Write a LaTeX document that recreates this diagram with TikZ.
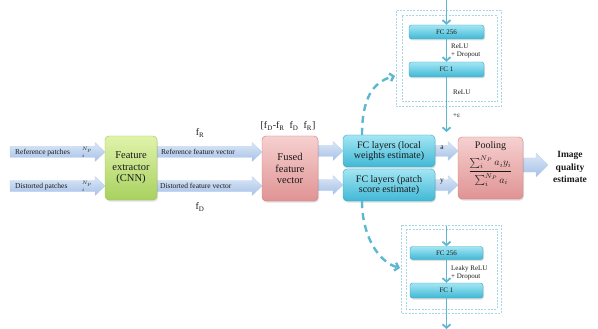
\documentclass[tikz,border=0pt]{standalone}
\usepackage{fontspec}
\setmainfont{Liberation Serif}
\usetikzlibrary{arrows.meta,shadows,calc}
\definecolor{cyanA}{HTML}{A3E6F4}
\definecolor{cyanB}{HTML}{40B8D5}
\definecolor{cyanD}{HTML}{3AA4C0}
\definecolor{greenA}{HTML}{E0F3AA}
\definecolor{greenB}{HTML}{A8D160}
\definecolor{greenD}{HTML}{9CC45A}
\definecolor{redA}{HTML}{F6D0D0}
\definecolor{redB}{HTML}{E09393}
\definecolor{redD}{HTML}{CC7C7C}
\definecolor{arrA}{HTML}{DCE7F6}
\definecolor{arrB}{HTML}{A5C1E8}
\definecolor{lineC}{HTML}{5DB7D0}
\definecolor{boxC}{HTML}{A8D6E6}
\definecolor{txt}{HTML}{1A1A1A}
\tikzset{
  every node/.style={text=txt},
  box/.style={rounded corners=4pt, align=center, inner sep=1pt,
    drop shadow={opacity=0.25,shadow xshift=1pt,shadow yshift=-1.5pt}},
  greenbox/.style={box, draw=greenD, top color=greenA, bottom color=greenB,
    font=\fontsize{10.5}{11.5}\selectfont},
  redbox/.style={box, draw=redD, top color=redA, bottom color=redB,
    font=\fontsize{10.5}{11.5}\selectfont},
  cyanbox/.style={box, draw=cyanD, top color=cyanA, bottom color=cyanB,
    font=\fontsize{10}{10.5}\selectfont},
  smallbox/.style={box, rounded corners=2.5pt, draw=cyanD, top color=cyanA, bottom color=cyanB,
    font=\fontsize{7}{8}\selectfont, minimum width=75, minimum height=14},
  fatarr/.style={top color=arrA, bottom color=arrB, draw=arrB!80!white, line width=0.3pt},
  lbl/.style={font=\fontsize{7.5}{8.5}\selectfont, inner sep=0pt},
  small/.style={font=\fontsize{7}{8}\selectfont, inner sep=0pt, align=left},
  vline/.style={draw=lineC, line width=1.8pt, -{Straight Barb[length=3.5pt,width=8pt]}},
  dcurve/.style={draw=lineC, line width=2.4pt, dash pattern=on 7pt off 5pt,
    -{Straight Barb[length=3.5pt,width=8pt]}},
  dbox/.style={draw=boxC, line width=1pt, dash pattern=on 2pt off 1.3pt},
}
\newcommand\fatarrow[3]{%
  \path[fatarr] (#1,#3-5.5) -- (#2-10,#3-5.5) -- (#2-10,#3-9.5) -- (#2,#3)
    -- (#2-10,#3+9.5) -- (#2-10,#3+5.5) -- (#1,#3+5.5) -- cycle;}
\begin{document}
\begin{tikzpicture}[x=1pt,y=-1pt]
\useasboundingbox (0,0) rectangle (598,329);

% dashed container boxes
\draw[dbox] (396,11) rectangle (501,107);
\draw[dbox] (402,16) rectangle (497,102);
\draw[dbox] (401,225) rectangle (501,313);
\draw[dbox] (406,229) rectangle (497,309);

% fat arrows
\fatarrow{10}{105}{152}
\fatarrow{10}{105}{186}
\fatarrow{157}{262}{152}
\fatarrow{157}{262}{186}
\fatarrow{318}{343}{151}
\fatarrow{318}{343}{185}
\fatarrow{435}{458}{151}
\fatarrow{435}{458}{185}
\path[fatarr] (523,158) -- (536,158) -- (536,153) -- (548,165) -- (536,177) -- (536,172) -- (523,172) -- cycle;

% main boxes
\node[greenbox, minimum width=52, minimum height=64] (fe) at (131,168) {Feature\\extractor\\(CNN)};
\node[redbox, minimum width=56, minimum height=65] (fused) at (290,168.5) {Fused\\feature\\vector};
\node[cyanbox, minimum width=92, minimum height=32] (fcl) at (389,151) {FC layers (local\\weights estimate)};
\node[cyanbox, minimum width=92, minimum height=32] (fcp) at (389,185) {FC layers (patch\\score estimate)};
\node[redbox, minimum width=65, minimum height=62] (pool) at (490.5,168) {};
\node[font=\fontsize{10}{11}\selectfont, inner sep=0pt, align=center] (pooltxt) at (490.5,164)
  {Pooling\\[4pt]$\displaystyle\frac{\sum_{i}^{N_P} a_i y_i\rule[-4pt]{0pt}{4pt}}{\rule{0pt}{11pt}\sum_{i}^{N_P} a_i}$};
\node[font=\bfseries\fontsize{9.5}{12.5}\selectfont, align=center, inner sep=0pt] (out) at (570,167) {Image\\quality\\estimate};

% arrow labels
\node[lbl, anchor=west] (rp) at (15,152.5) {Reference patches};
\node[lbl, anchor=west] (dp) at (15,187) {Distorted patches};
\node[inner sep=0pt, font=\fontsize{4}{4}\selectfont] (np1) at (87,152) {$^{N_p}_{i}$};
\node[inner sep=0pt, font=\fontsize{4}{4}\selectfont] (np2) at (87,186) {$^{N_p}_{i}$};
\node[lbl, anchor=west] (rfv) at (161,151.5) {Reference feature vector};
\node[lbl, anchor=west] (dfv) at (160,186) {Distorted feature vector};
\node[font=\fontsize{10}{11}\selectfont, inner sep=0pt] (fR) at (200,133) {f$_\mathrm{R}$};
\node[font=\fontsize{10}{11}\selectfont, inner sep=0pt] (fD) at (200,207) {f$_\mathrm{D}$};
\node[font=\fontsize{10}{11}\selectfont, inner sep=0pt] (cat) at (288,126) {[f$_\mathrm{D}$-f$_\mathrm{R}$\ \ f$_\mathrm{D}$\ \ f$_\mathrm{R}$]};
\node[lbl] (la) at (442,148) {a};
\node[lbl] (ly) at (442,182) {y};

% top FC stack
\node[smallbox] (t256) at (446.5,32) {FC 256};
\node[smallbox, minimum height=15] (t1) at (446.5,69.5) {FC 1};
\coordinate (tin) at (446.5,0);
\coordinate (tout) at (446.5,132);
\draw[vline] (tin) -- (t256.north);
\draw[vline] (t256.south) -- (t1.north);
\draw[vline] (t1.south) -- (tout);
\node[small, anchor=west] (tl1) at (451,51) {ReLU\\+ Dropout};
\node[small, anchor=west] (tl2) at (453,92) {ReLU};
\node[small, anchor=west] (tl3) at (453,116) {+ε};

% bottom FC stack
\node[smallbox, minimum width=73, minimum height=13] (b256) at (446.5,253) {FC 256};
\node[smallbox, minimum width=73, minimum height=15] (b1) at (446.5,290.5) {FC 1};
\coordinate (bin) at (446.5,226);
\coordinate (bout) at (446.5,329);
\draw[vline] (bin) -- (b256.north);
\draw[vline] (b256.south) -- (b1.north);
\draw[vline] (b1.south) -- (bout);
\node[small, anchor=west] (bl1) at (451,273) {Leaky ReLU\\+ Dropout};

% dashed curved arrows
\coordinate (tgt1) at (395,76);
\coordinate (tgt2) at (400,268);
\draw[dcurve] ([xshift=-27pt]fcl.north) .. controls (362,100) and (372,82) .. (tgt1);
\draw[dcurve] ([xshift=-27pt]fcp.south) .. controls (362,235) and (378,262) .. (tgt2);
\end{tikzpicture}
\end{document}
